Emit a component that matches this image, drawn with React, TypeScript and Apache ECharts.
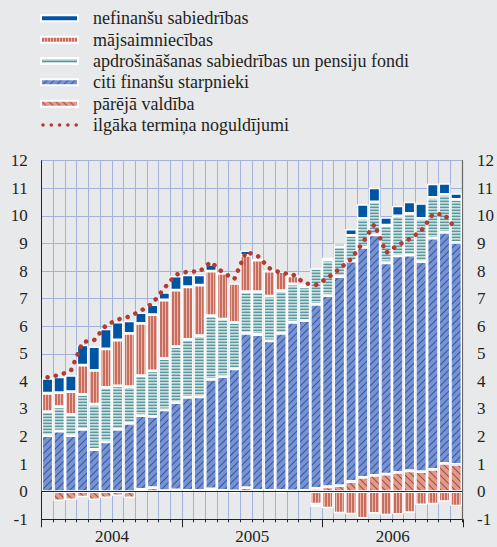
import React, { useEffect, useRef } from 'react';
import * as echarts from 'echarts';

const months: string[] = [];
for (const y of [2004, 2005, 2006]) {
  for (let m = 1; m <= 12; m++) months.push(`${y}-${m < 10 ? '0' + m : m}`);
}
const years = ['2004', '2005', '2006'];
const yTicks = [-1, 12];

const pareja = [
  -0.03, -0.33, -0.30, -0.20, -0.30, -0.22, -0.15, -0.22, 0.08, 0.15, 0.04, 0.07,
  0.05, 0.05, 0.10, 0.05, 0.03, 0.15, 0.05, 0.05, 0.05, 0.03, 0.05, 0.12,
  0.18, 0.22, 0.37, 0.52, 0.59, 0.64, 0.70, 0.76, 0.73, 0.81, 1.03, 0.99,
];
const citi = [
  2.03, 2.20, 2.03, 2.26, 1.53, 1.81, 2.26, 2.48, 2.68, 2.58, 2.93, 3.16,
  3.37, 3.39, 3.97, 4.12, 4.42, 5.59, 5.65, 5.42, 5.69, 6.11, 6.15, 6.67,
  6.93, 7.58, 7.99, 8.34, 8.72, 7.66, 7.85, 7.82, 7.61, 8.38, 8.37, 8.05,
];
const apdr = [
  0.87, 0.88, 0.77, 1.27, 1.64, 1.97, 1.58, 1.33, 1.45, 1.65, 1.86, 2.03,
  2.10, 2.22, 2.31, 2.09, 1.69, 1.51, 1.55, 1.62, 1.55, 1.39, 1.23, 1.31,
  1.29, 1.08, 0.93, 1.05, 1.20, 1.36, 1.45, 1.51, 1.57, 1.48, 1.38, 1.56,
];
const majs = [
  0.67, 0.51, 0.83, 1.06, 1.23, 1.40, 1.66, 1.93, 1.89, 2.04, 2.12, 2.05,
  1.91, 1.83, 1.62, 1.66, 1.41, 1.32, 1.15, 0.91, 0.69, 0.30, 0.06, -0.45,
  -0.60, -0.78, -0.81, -0.97, -0.79, -0.85, -0.82, -0.76, -0.48, -0.45, -0.36, -0.52,
];
const nefin = [
  0.54, 0.57, 0.59, 0.73, 0.86, 0.72, 0.65, 0.45, 0.39, 0.36, 0.28, 0.51,
  0.43, 0.37, 0.24, 0, -0.05, 0.17, 0.03, 0, -0.05, 0, 0, -0.10,
  0.08, 0.12, 0.23, 0.51, 0.51, 0.29, 0.36, 0.42, 0.54, 0.49, 0.40, 0.22,
];
const ilgaka = [
  4.15, 4.23, 4.38, 5.42, 5.5, 6.03, 6.24, 6.35, 6.56, 6.83, 7.38, 7.87,
  7.98, 7.98, 8.33, 7.95, 7.71, 8.7, 8.55, 8.1, 7.93, 7.88, 7.56, 7.5,
  7.75, 8.08, 8.43, 9.03, 9.7, 8.66, 8.93, 9.16, 9.45, 10.06, 10.05, 9.5,
];

const N_NEFIN = 'nefinanšu sabiedrības';
const N_MAJS = 'mājsaimniecības';
const N_APDR = 'apdrošināšanas sabiedrības un pensiju fondi';
const N_CITI = 'citi finanšu starpnieki';
const N_PAR = 'pārējā valdība';
const N_LINE = 'ilgāka termiņa noguldījumi';

const FONT = "'Liberation Serif', 'Times New Roman', serif";
const TEXT = '#231f20';
const GRIDC = '#a3b1dc';
const BG = '#e8e9eb';

function dotsIcon() {
  let d = 'path://M0,0L0.01,0M0,6L0.01,6M36.99,0L37,0';
  for (let i = 0; i < 5; i++) {
    const cx = 2 + i * 8.3;
    d += `M${(cx - 1.8).toFixed(2)},3a1.8,1.8 0 1,0 3.6,0a1.8,1.8 0 1,0 -3.6,0`;
  }
  return d;
}

function makePattern(w: number, h: number, draw: (ctx: CanvasRenderingContext2D) => void) {
  const c = document.createElement('canvas');
  c.width = w;
  c.height = h;
  const ctx = c.getContext('2d') as CanvasRenderingContext2D;
  draw(ctx);
  return { image: c, repeat: 'repeat', imageWidth: w, imageHeight: h } as any;
}

function diag(ctx: CanvasRenderingContext2D, w: number, up: boolean) {
  ctx.beginPath();
  for (const off of [-w, 0, w]) {
    if (up) {
      ctx.moveTo(off - 1, w + 1);
      ctx.lineTo(off + w + 1, -1);
    } else {
      ctx.moveTo(off - 1, -1);
      ctx.lineTo(off + w + 1, w + 1);
    }
  }
  ctx.stroke();
}

export default function App() {
  const ref = useRef<HTMLDivElement>(null);
  useEffect(() => {
    document.body.style.margin = '0';
    document.body.style.background = BG;
    if (!ref.current) return;

    const majsPat = makePattern(3, 4, (ctx) => {
      ctx.fillStyle = '#c96e5f';
      ctx.fillRect(0, 0, 3, 4);
      ctx.fillStyle = '#eab6a9';
      ctx.fillRect(0, 0, 1, 4);
    });
    const apdrPat = makePattern(4, 3, (ctx) => {
      ctx.fillStyle = '#c9dfdf';
      ctx.fillRect(0, 0, 4, 3);
      ctx.fillStyle = '#5a979e';
      ctx.fillRect(0, 0, 4, 1);
      ctx.fillStyle = '#a3c6c8';
      ctx.fillRect(0, 2, 4, 1);
    });
    const citiPat = makePattern(7, 7, (ctx) => {
      ctx.fillStyle = '#7a92cd';
      ctx.fillRect(0, 0, 7, 7);
      ctx.strokeStyle = '#2f5cb3';
      ctx.lineWidth = 1.1;
      diag(ctx, 7, true);
    });
    const parPat = makePattern(7, 7, (ctx) => {
      ctx.fillStyle = '#dd9d8d';
      ctx.fillRect(0, 0, 7, 7);
      ctx.strokeStyle = '#b6493d';
      ctx.lineWidth = 1.1;
      diag(ctx, 7, false);
    });

    const chart = echarts.init(ref.current, null, { renderer: 'svg' });
    const border = { borderColor: '#ffffff', borderWidth: 1.4 };
    const barBase = {
      type: 'bar',
      stack: 'total',
      barCategoryGap: '0%',
      xAxisIndex: 0,
      yAxisIndex: 0,
      emphasis: { disabled: true },
    };
    const gridPos = { left: 41.7, right: 34, top: 160.7, bottom: 27.7 };
    const axisLabel = { fontSize: 17, fontFamily: FONT, color: TEXT };

    chart.setOption({
      animation: false,
      backgroundColor: BG,
      textStyle: { fontFamily: FONT },
      grid: [{ ...gridPos }, { ...gridPos }],
      legend: {
        orient: 'vertical',
        left: 40,
        top: 9.3,
        padding: 0,
        itemWidth: 37,
        itemHeight: 6,
        itemGap: 3.35,
        selectedMode: false,
        textStyle: { fontSize: 18, fontFamily: FONT, color: TEXT, lineHeight: 18, padding: [0, 0, 0, 10] },
        data: [
          { name: N_NEFIN, icon: 'rect' },
          { name: N_MAJS, icon: 'rect' },
          { name: N_APDR, icon: 'rect' },
          { name: N_CITI, icon: 'rect' },
          { name: N_PAR, icon: 'rect' },
          {
            name: N_LINE,
            icon: dotsIcon(),
            itemStyle: { color: '#b23b33', borderWidth: 0 },
            lineStyle: { width: 0, opacity: 0 },
          },
        ],
      },
      xAxis: [
        {
          type: 'category',
          gridIndex: 0,
          data: months,
          position: 'bottom',
          boundaryGap: true,
          axisLine: { onZero: false, lineStyle: { color: '#222', width: 1 } },
          axisTick: { show: true, interval: 0, length: 3, lineStyle: { color: '#222' } },
          axisLabel: { show: false },
          splitLine: { show: true, interval: 0, lineStyle: { color: GRIDC, width: 1 } },
        },
        {
          type: 'category',
          gridIndex: 1,
          data: years,
          position: 'bottom',
          boundaryGap: true,
          axisLine: { show: false, onZero: false },
          axisTick: { show: true, length: 8, lineStyle: { color: '#222' } },
          axisLabel: { ...axisLabel, margin: 9 },
          splitLine: { show: false },
        },
      ],
      yAxis: [
        {
          type: 'value',
          gridIndex: 0,
          position: 'left',
          min: yTicks[0],
          max: yTicks[1],
          interval: 1,
          axisLine: { show: true, lineStyle: { color: '#222', width: 1 } },
          axisTick: { show: false },
          axisLabel: { ...axisLabel, margin: 14 },
          splitLine: { show: true, lineStyle: { color: GRIDC, width: 1 } },
        },
        {
          type: 'value',
          gridIndex: 0,
          position: 'right',
          min: yTicks[0],
          max: yTicks[1],
          interval: 1,
          axisLine: { show: true, lineStyle: { color: '#666', width: 1.2 } },
          axisTick: { show: false },
          axisLabel: { ...axisLabel, margin: 15 },
          splitLine: { show: false },
        },
        {
          type: 'value',
          gridIndex: 1,
          min: yTicks[0],
          max: yTicks[1],
          show: false,
        },
      ],
      series: [
        {
          ...barBase,
          name: N_PAR,
          data: pareja,
          itemStyle: { color: parPat, ...border },
          markLine: {
            silent: true,
            symbol: 'none',
            label: { show: false },
            lineStyle: { color: '#222', width: 1, type: 'solid' },
            data: [{ yAxis: 0 }],
          },
        },
        { ...barBase, name: N_CITI, data: citi, itemStyle: { color: citiPat, ...border } },
        { ...barBase, name: N_APDR, data: apdr, itemStyle: { color: apdrPat, ...border } },
        { ...barBase, name: N_MAJS, data: majs, itemStyle: { color: majsPat, ...border } },
        { ...barBase, name: N_NEFIN, data: nefin, itemStyle: { color: '#0055a2', ...border } },
        {
          type: 'line',
          name: N_LINE,
          data: ilgaka,
          xAxisIndex: 0,
          yAxisIndex: 0,
          symbol: 'none',
          z: 5,
          itemStyle: { color: '#b23b33' },
          lineStyle: { color: '#b23b33', width: 4.5, type: [0.1, 8.3], cap: 'round' },
          emphasis: { disabled: true },
        },
      ],
    });
    return () => chart.dispose();
  }, []);
  return (
    <div
      ref={ref}
      style={{ position: 'fixed', left: 0, top: 0, width: 497, height: 547, background: BG }}
    />
  );
}
